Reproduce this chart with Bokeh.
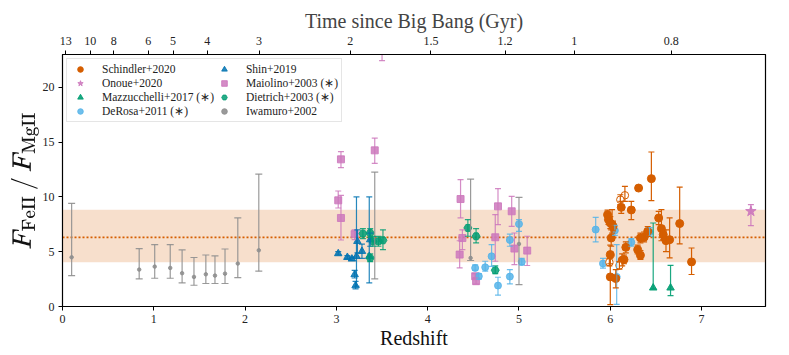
import numpy as np
from bokeh.plotting import figure
from bokeh.models import (Range1d, LinearAxis, FixedTicker, CustomJSTickFormatter, ColumnDataSource,
                          Whisker, TeeHead, BoxAnnotation, Span, Legend, LegendItem)
from bokeh.embed import file_html
from bokeh.resources import INLINE

# ---------------- data ----------------
# Schindler+2020 (filled)
sch_z  = [5.97, 5.98, 6.00, 6.02, 6.03, 6.01, 6.00, 6.00, 6.06, 6.13, 6.15, 6.17, 6.12, 6.23, 6.31,
          6.30, 6.33, 6.33, 6.37, 6.41, 6.45, 6.53, 6.56, 6.58, 6.61, 6.65, 6.76, 6.89]
sch_y  = [8.38, 7.93, 7.62, 7.47, 7.32, 6.25, 4.74, 2.70, 2.55, 4.22, 4.28, 5.40, 9.05, 8.81, 10.81,
          5.19, 4.68, 6.26, 6.32, 6.86, 11.67, 8.08, 7.11, 6.56, 6.01, 6.10, 7.57, 4.07]
sch_lo = [7.90, 7.50, 7.10, 6.70, 6.90, 5.50, 3.90, 0.18, 1.70, 3.70, 3.90, 4.90, 8.50, 7.93, 10.81,
          4.80, 4.30, 5.80, 5.90, 6.40, 9.66, 7.47, 6.00, 6.10, 5.00, 4.43, 5.71, 2.92]
sch_hi = [8.80, 8.40, 8.20, 8.84, 7.80, 7.00, 5.60, 4.43, 3.37, 4.80, 4.70, 5.90, 9.60, 9.60, 10.81,
          5.60, 5.10, 6.70, 6.80, 7.30, 14.10, 8.69, 8.84, 7.00, 7.00, 8.08, 10.90, 5.34]
# Schindler+2020 (open symbols)
scho_z  = [6.16, 6.11, 5.99, 6.10]
scho_y  = [10.15, 9.75, 4.04, 3.75]
scho_lo = [9.60, 9.30, 3.70, 3.40]
scho_hi = [10.97, 10.20, 4.40, 4.10]

# Onoue+2020
ono_z, ono_y, ono_lo, ono_hi = [7.54], [8.69], [7.38], [9.30]

# Mazzucchelli+2017 (*)
maz_z  = [6.47, 6.66]
maz_y  = [1.70, 1.70]
maz_lo = [1.60, 1.00]
maz_hi = [7.62, 3.76]

# DeRosa+2011 (*)
der_z  = [4.52, 4.56, 4.63, 4.70, 4.77, 4.90, 4.90, 5.00, 5.03, 5.84, 5.92, 6.05, 6.07, 6.23, 6.43]
der_y  = [3.52, 2.76, 3.58, 4.58, 1.91, 2.73, 6.07, 7.53, 4.07, 7.02, 3.92, 6.93, 2.70, 5.86, 6.80]
der_lo = [3.30, 2.50, 3.22, 3.67, 1.03, 2.06, 5.50, 6.86, 3.80, 5.89, 3.50, 6.50, 0.20, 5.50, 6.40]
der_hi = [3.80, 3.00, 4.13, 5.65, 2.67, 3.37, 6.60, 7.93, 4.40, 8.14, 4.40, 7.40, 5.65, 6.20, 7.20]

# Shin+2019
shin_z  = [3.02, 3.12, 3.17, 3.22, 3.20, 3.21, 3.23, 3.28, 3.36, 3.37]
shin_y  = [4.83, 4.49, 4.34, 4.58, 2.92, 1.91, 5.95, 5.04, 4.58, 6.10]
shin_lo = [4.70, 4.35, 4.20, 1.85, 2.60, 1.60, 4.90, 4.40, 2.15, 5.50]
shin_hi = [5.00, 4.65, 4.50, 10.00, 3.30, 2.30, 7.00, 5.70, 10.00, 6.70]

# Maiolino+2003 (*)
mai_z  = [3.05, 3.42, 3.02, 3.05, 3.20, 3.50, 4.36, 4.38, 4.35, 4.52, 4.53, 4.74, 4.77, 4.92, 4.95, 5.09]
mai_y  = [13.43, 14.25, 9.69, 8.08, 6.60, 25.00, 9.81, 6.25, 4.74, 2.76, 2.31, 6.32, 9.14, 8.69, 5.29, 5.10]
mai_lo = [12.67, 13.06, 8.99, 6.07, 6.10, 22.45, 8.08, 5.20, 3.52, 2.50, 2.05, 4.13, 7.47, 7.32, 3.83, 3.74]
mai_hi = [14.13, 15.37, 10.54, 10.15, 7.00, 27.50, 11.58, 7.00, 6.00, 3.00, 2.60, 8.39, 10.76, 10.05, 6.71, 6.41]

# Dietrich+2003 (*)
die_z  = [3.29, 3.37, 3.40, 3.46, 3.51, 3.37, 4.44, 4.53, 4.74]
die_y  = [6.65, 6.71, 5.95, 5.95, 6.04, 4.43, 7.17, 6.41, 3.31]
die_lo = [6.20, 6.30, 5.50, 5.50, 5.20, 4.10, 6.41, 5.80, 3.00]
die_hi = [7.10, 7.10, 6.40, 6.40, 7.00, 4.80, 7.93, 7.11, 3.70]

# Iwamuro+2002
iwa_z  = [0.10, 0.84, 1.01, 1.18, 1.31, 1.44, 1.57, 1.67, 1.78, 1.92, 2.15, 3.42, 4.47, 5.00]
iwa_y  = [4.49, 3.37, 3.64, 3.52, 3.04, 2.70, 2.94, 2.82, 3.00, 3.92, 5.13, 5.90, 4.43, 5.71]
iwa_lo = [2.82, 2.52, 2.58, 2.58, 2.15, 1.94, 2.10, 2.10, 2.10, 2.64, 3.22, 2.52, 4.20, 2.00]
iwa_hi = [9.42, 5.28, 5.65, 5.65, 5.16, 4.47, 4.70, 4.62, 5.25, 8.08, 12.09, 12.27, 11.63, 9.96]

# mean ratio and its scatter
band_mean, band_low, band_high = 6.31, 4.04, 8.84

# top axis: time since Big Bang (Gyr)
age_ticks = [13, 10, 8, 6, 5, 4, 3, 2, 1.5, 1.2, 1, 0.8]
age_labels = ["13", "10", "8", "6", "5", "4", "3", "2", "1.5", "1.2", "1", "0.8"]

# flat LCDM (H0=70, Om=0.3) to convert age to redshift for tick placement
H0_inv_gyr = 977.8 / 70.0
Om, OL = 0.3, 0.7
def z_of_age(t):
    a = np.sinh(t * 1.5 * np.sqrt(OL) / H0_inv_gyr) / np.sqrt(OL / Om)
    return float(a ** (-2.0 / 3.0) - 1.0)
age_z = [z_of_age(t) for t in age_ticks]

# ---------------- figure ----------------
SERIF = "Liberation Serif"
XMAX, YMAX = 7.7, 23.0

p = figure(frame_width=703, frame_height=252, x_range=Range1d(0, XMAX), y_range=Range1d(0, YMAX),
           output_backend="svg", toolbar_location=None,
           min_border_left=62, min_border_right=10, min_border_top=54, min_border_bottom=36)
p.xgrid.visible = False
p.ygrid.visible = False
p.outline_line_color = "black"
p.outline_line_width = 1.2
p.background_fill_color = "white"

p.xaxis.ticker = FixedTicker(ticks=list(range(0, 8)))
p.yaxis.ticker = FixedTicker(ticks=[0, 5, 10, 15, 20])
for ax in (p.xaxis[0], p.yaxis[0]):
    ax.major_tick_out = 4
    ax.major_tick_in = 0
    ax.minor_tick_out = 0
    ax.minor_tick_in = 0
    ax.axis_line_color = "black"
    ax.major_label_text_font = SERIF
    ax.major_label_text_font_size = "12px"
    ax.major_label_text_color = "#222222"
    ax.axis_label_text_font = SERIF
    ax.axis_label_text_font_style = "normal"
    ax.axis_label_text_color = "#111111"

p.xaxis.axis_label = "Redshift"
p.xaxis.axis_label_text_font_size = "20px"
p.xaxis.axis_label_standoff = 1
p.xaxis.major_label_standoff = 4
p.yaxis.axis_label = r"$$F_{\mathrm{FeII}}\,/\,F_{\mathrm{MgII}}$$"
p.yaxis.axis_label_text_font_size = "26px"
p.yaxis.axis_label_standoff = 0
p.yaxis.major_label_standoff = 4

p.extra_x_ranges = {"age": Range1d(0, XMAX)}
top = LinearAxis(x_range_name="age", ticker=FixedTicker(ticks=age_z),
                 formatter=CustomJSTickFormatter(args=dict(zs=age_z, labs=age_labels), code="""
                     let best = 0, d = 1e9;
                     for (let i = 0; i < zs.length; i++) {
                         const dd = Math.abs(zs[i] - tick);
                         if (dd < d) { d = dd; best = i; }
                     }
                     return labs[best];
                 """))
top.axis_label = "Time since Big Bang (Gyr)"
top.axis_label_text_font = SERIF
top.axis_label_text_font_style = "normal"
top.axis_label_text_font_size = "20px"
top.axis_label_standoff = 2
top.major_label_standoff = 6
top.major_label_text_font = SERIF
top.major_label_text_font_size = "12px"
top.major_label_text_color = "#222222"
top.major_tick_out = 4
top.major_tick_in = 0
top.minor_tick_out = 0
top.minor_tick_in = 0
p.add_layout(top, "above")

ORANGE = "#D55E00"
band = BoxAnnotation(bottom=band_low, top=band_high, fill_color=ORANGE, fill_alpha=0.2,
                     line_color=None, level="underlay")
p.add_layout(band)
p.add_layout(Span(location=band_mean, dimension="width", line_color=ORANGE, line_width=1.6,
                  line_dash="2 2", level="underlay"))

def series(z, y, lo, hi, color, marker, size, fill=None, alpha=1.0, lw=1.2, cap=6):
    src = ColumnDataSource(dict(z=z, y=y, lo=lo, hi=hi))
    w = Whisker(source=src, base="z", lower="lo", upper="hi", dimension="height",
                line_color=color, line_width=lw, line_alpha=alpha, level="glyph",
                upper_head=TeeHead(size=cap, line_color=color, line_width=lw, line_alpha=alpha),
                lower_head=TeeHead(size=cap, line_color=color, line_width=lw, line_alpha=alpha))
    p.add_layout(w)
    r = p.scatter("z", "y", source=src, marker=marker, size=size,
                  fill_color=fill if fill is not None else color, fill_alpha=alpha,
                  line_color=color, line_alpha=alpha, line_width=1.0)
    return r

PINK = "#CC78BC"
GREEN = "#029E73"
LBLUE = "#56B4E9"
BLUE = "#0173B2"
GRAY = "#8f8f8f"

r_iwa = series(iwa_z, iwa_y, iwa_lo, iwa_hi, GRAY, "circle", 3.5, alpha=0.9, cap=7)
r_mai = series(mai_z, mai_y, mai_lo, mai_hi, PINK, "square", 7, alpha=0.85)
r_shin = series(shin_z, shin_y, shin_lo, shin_hi, BLUE, "triangle", 7.5, alpha=0.85)
r_die = series(die_z, die_y, die_lo, die_hi, GREEN, "hex", 8, alpha=0.85)
r_der = series(der_z, der_y, der_lo, der_hi, LBLUE, "circle", 7, alpha=0.85)
r_maz = series(maz_z, maz_y, maz_lo, maz_hi, GREEN, "triangle", 7.5, alpha=0.9)
r_sch = series(sch_z, sch_y, sch_lo, sch_hi, ORANGE, "circle", 8)
r_scho = series(scho_z, scho_y, scho_lo, scho_hi, ORANGE, "circle", 7.5, fill="white")
r_ono = series(ono_z, ono_y, ono_lo, ono_hi, PINK, "star", 11, alpha=0.9)

legend = Legend(items=[
    LegendItem(label="Schindler+2020", renderers=[r_sch]),
    LegendItem(label="Onoue+2020", renderers=[r_ono]),
    LegendItem(label="Mazzucchelli+2017 (\u2217)", renderers=[r_maz]),
    LegendItem(label="DeRosa+2011 (\u2217)", renderers=[r_der]),
    LegendItem(label="Shin+2019", renderers=[r_shin]),
    LegendItem(label="Maiolino+2003 (\u2217)", renderers=[r_mai]),
    LegendItem(label="Dietrich+2003 (\u2217)", renderers=[r_die]),
    LegendItem(label="Iwamuro+2002", renderers=[r_iwa]),
], location="top_left", nrows=4)
legend.label_text_font = SERIF
legend.label_text_font_size = "11.5px"
legend.label_text_color = "#222222"
legend.label_height = 14
legend.glyph_height = 14
legend.glyph_width = 20
legend.label_standoff = 12
legend.spacing = 0
legend.padding = 3
legend.margin = 4
legend.border_line_color = "#cccccc"
legend.border_line_width = 1
legend.background_fill_alpha = 0.85
p.add_layout(legend)

open("out.html", "w").write(file_html(p, INLINE))
